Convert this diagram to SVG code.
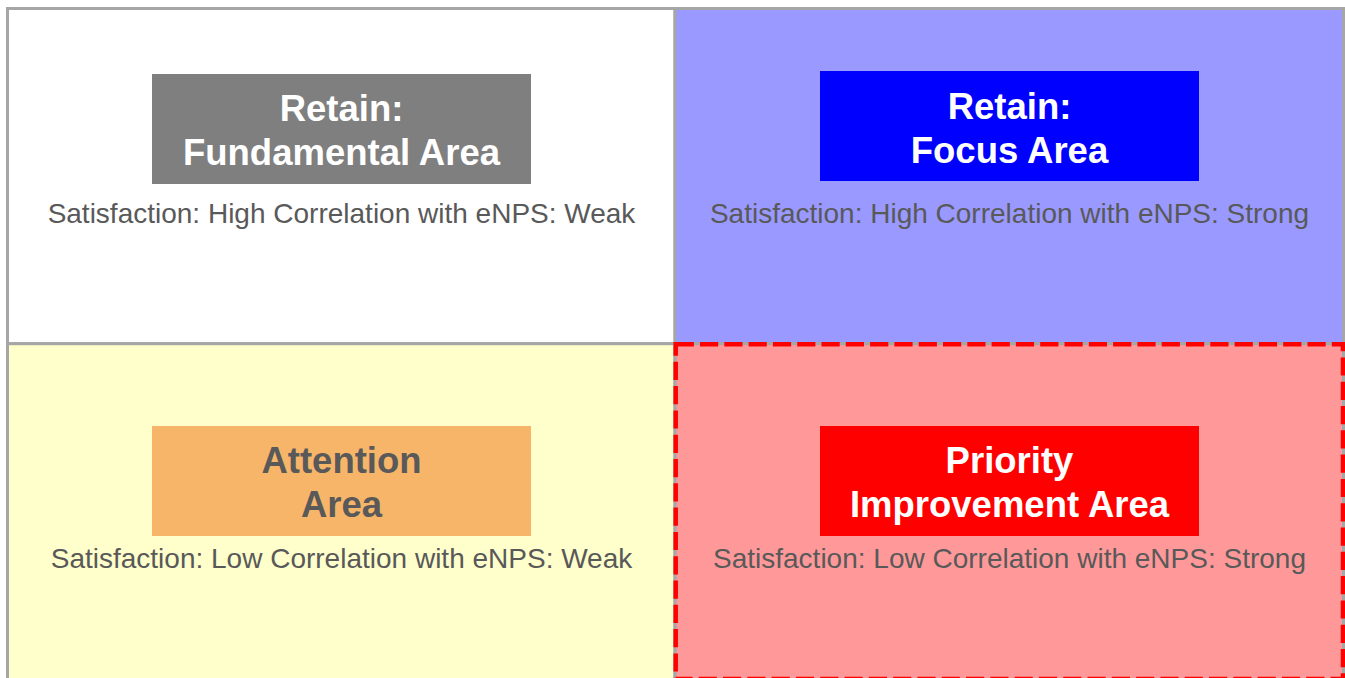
<svg xmlns="http://www.w3.org/2000/svg" width="1345" height="678" viewBox="0 0 1345 678">
<style>
.title{font-family:"Liberation Sans",Arial,sans-serif;font-weight:bold;font-size:36.5px;text-anchor:middle;fill:#ffffff}
.dark{fill:#595959}
.sub{font-family:"Liberation Sans",Arial,sans-serif;font-size:28px;text-anchor:middle;fill:#595959}
.cell{stroke:#a6a6a6;stroke-width:3}
</style>
<rect width="1345" height="678" fill="#ffffff"/>
<g id="quadrant-tl">
<rect class="cell" x="7.5" y="8.5" width="667.5" height="335.2" fill="#ffffff"/>
<rect x="152" y="74" width="379" height="110" fill="#7f7f7f"/>
<text class="title" x="341.5" y="121">Retain:</text>
<text class="title" x="341.5" y="165">Fundamental Area</text>
<text class="sub" x="341.5" y="223">Satisfaction: High Correlation with eNPS: Weak</text>
</g>
<g id="quadrant-tr">
<rect class="cell" x="675" y="8.5" width="668.5" height="335.2" fill="#9999ff"/>
<rect x="820" y="71" width="379" height="110" fill="#0000ff"/>
<text class="title" x="1009.5" y="118.5">Retain:</text>
<text class="title" x="1009.5" y="162.7">Focus Area</text>
<text class="sub" x="1009.5" y="223">Satisfaction: High Correlation with eNPS: Strong</text>
</g>
<g id="quadrant-bl">
<rect class="cell" x="7.5" y="343.7" width="667.5" height="340" fill="#ffffcc"/>
<rect x="152" y="426" width="379" height="110" fill="#f7b56a"/>
<text class="title dark" x="341.5" y="472.7">Attention</text>
<text class="title dark" x="341.5" y="517.3">Area</text>
<text class="sub" x="341.5" y="568">Satisfaction: Low Correlation with eNPS: Weak</text>
</g>
<g id="quadrant-br">
<rect class="cell" x="675" y="343.7" width="668.5" height="340" fill="#ff9999"/>
<rect x="820" y="426" width="379" height="110" fill="#ff0000"/>
<text class="title" x="1009.5" y="472.7">Priority</text>
<text class="title" x="1009.5" y="517.3">Improvement Area</text>
<text class="sub" x="1009.5" y="568">Satisfaction: Low Correlation with eNPS: Strong</text>
</g>
<g id="connectors">
<rect x="675.7" y="344.3" width="667.3" height="334.7" fill="none" stroke="#ff0000" stroke-width="4.5" stroke-dasharray="18.2 6.1"/>
</g>
</svg>
